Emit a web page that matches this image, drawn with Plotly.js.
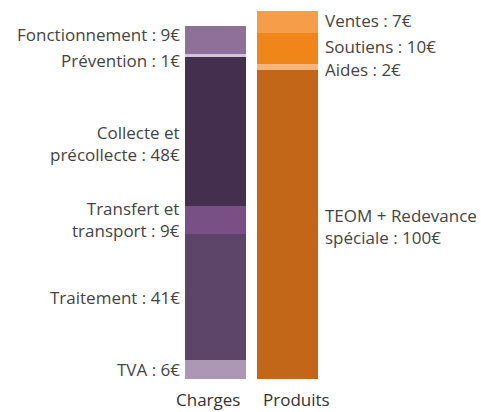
<!DOCTYPE html>
<html><head><meta charset="utf-8">
<script src="https://cdn.plot.ly/plotly-3.0.1.min.js"></script>
<style>body{margin:0;background:#fff}#c{width:481px;height:412px}</style>
</head><body><div id="c"></div>
<script>
const categories = ["Charges", "Produits"];
const chargesLabels = ["TVA", "Traitement", "Transfert et<br>transport", "Collecte et<br>précollecte", "Prévention", "Fonctionnement"];
const chargesValues = [6, 41, 9, 48, 1, 9];
const produitsLabels = ["TEOM + Redevance<br>spéciale", "Aides", "Soutiens", "Ventes"];
const produitsValues = [100, 2, 10, 7];

const chargesColors = ["#AC97B4", "#5D4569", "#785085", "#44304E", "#D3C4D9", "#8E7098"];
const produitsColors = ["#C26617", "#F6B57A", "#F08519", "#F59D48"];
const labelYOffset = { "Fonctionnement": 2, "Prévention": -1.5, "Collecte et<br>précollecte": -4, "Aides": -0.8, "Ventes": 0.3, "Soutiens": 0.6, "TEOM + Redevance<br>spéciale": -0.7 };
const catShift = [-8, 8.5];

const halfW = 0.4236;
const traces = [];
const annotations = [];
const FONT = "'Open Sans', sans-serif";
function addSeries(idx, labels, values, colors, side) {
  let base = 0;
  labels.forEach((lab, i) => {
    traces.push({
      type: "bar", x: [idx], y: [values[i]], width: [halfW * 2],
      marker: { color: colors[i], line: { width: 0 } },
      hoverinfo: "none", showlegend: false
    });
    const mid = base + values[i] / 2 + (labelYOffset[lab] || 0);
    annotations.push({
      xref: "x", yref: "y", x: side === "left" ? idx - halfW : idx + halfW, y: mid,
      xanchor: side === "left" ? "right" : "left", yanchor: "middle",
      xshift: side === "left" ? -3 : 5,
      text: lab + " : " + values[i] + "€", showarrow: false,
      align: side === "left" ? "right" : "left",
      font: { family: FONT, size: 17, color: "#444" }
    });
    base += values[i];
  });
}
addSeries(0, chargesLabels, chargesValues, chargesColors, "left");
addSeries(1, produitsLabels, produitsValues, produitsColors, "right");
categories.forEach((c, i) => {
  annotations.push({
    xref: "x", yref: "y", x: i, y: 0, xanchor: "center", yanchor: "top",
    xshift: catShift[i], yshift: -8, borderpad: 0, text: c, showarrow: false,
    font: { family: FONT, size: 17, color: "#333" }
  });
});

Plotly.newPlot("c", traces, {
  width: 481, height: 412,
  margin: { l: 0, r: 0, t: 11, b: 33 },
  barmode: "stack", bargap: 0,
  paper_bgcolor: "#fff", plot_bgcolor: "#fff",
  xaxis: { range: [-2.993, 3.6875], tickvals: [0, 1], ticktext: categories, showticklabels: false, showgrid: false, zeroline: false, showline: false, ticks: "", fixedrange: true },
  yaxis: { range: [0, 119], visible: false, fixedrange: true },
  annotations: annotations
}, { displayModeBar: false, staticPlot: true });
</script></body></html>
